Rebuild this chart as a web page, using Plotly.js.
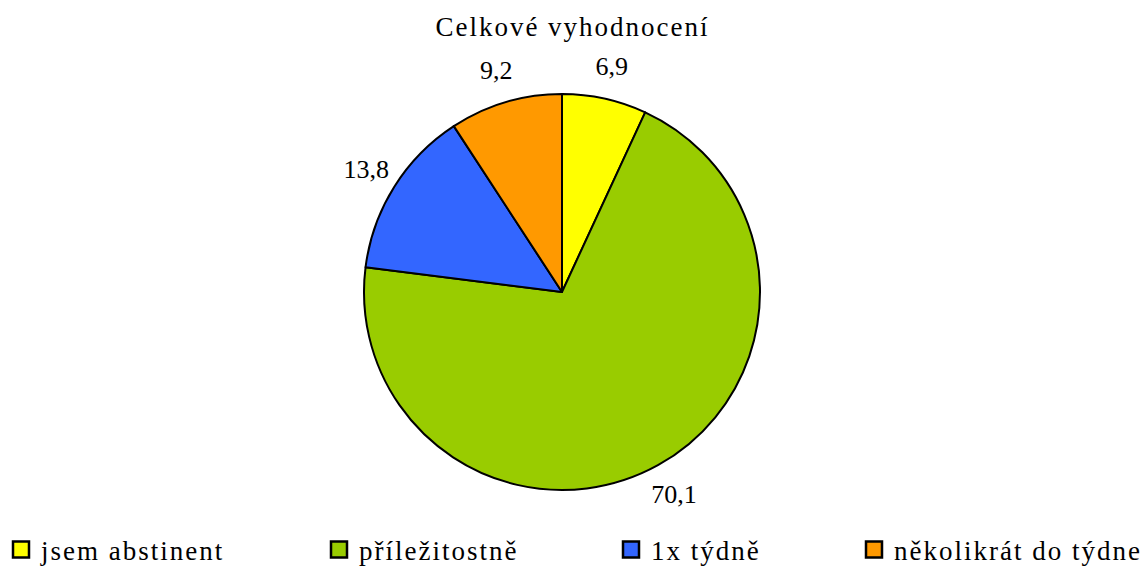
<!DOCTYPE html>
<html>
<head>
<meta charset="utf-8">
<script src="https://cdn.plot.ly/plotly-3.0.1.min.js"></script>
<style>
html, body { margin: 0; padding: 0; background: #fff; }
#chart { width: 1143px; height: 569px; }
.infolayer text, text.legendtext, text.gtitle { letter-spacing: 2px; }
.scrollbox { clip-path: none !important; }
</style>
</head>
<body>
<div id="chart"></div>
<script>
const categories = ['jsem abstinent', 'příležitostně', '1x týdně', 'několikrát do týdne'];
const values = [6.9, 70.1, 13.8, 9.2];
const colors = ['#FFFF00', '#99CC00', '#3366FF', '#FF9900'];
const chartTitle = 'Celkové vyhodnocení';

const FONT = 'Liberation Serif';
const legendX = [1, 319, 611, 854];

const traces = [{
  type: 'pie',
  values: values,
  labels: categories,
  sort: false,
  direction: 'clockwise',
  rotation: 0,
  marker: { colors: colors, line: { color: '#000', width: 2 } },
  textinfo: 'none',
  hoverinfo: 'label+value',
  showlegend: false,
  domain: { x: [0.19169, 0.79169], y: [0.12069, 0.87931] }
}, {
  // transparent ring around the pie that carries the value labels, centred on each slice's mid-angle
  type: 'pie',
  values: values,
  labels: categories,
  sort: false,
  direction: 'clockwise',
  rotation: 0,
  hole: 0.77,
  marker: { colors: ['rgba(0,0,0,0)', 'rgba(0,0,0,0)', 'rgba(0,0,0,0)', 'rgba(0,0,0,0)'], line: { width: 0 } },
  textposition: 'inside',
  insidetextorientation: 'horizontal',
  texttemplate: '%{value:.1f}',
  insidetextfont: { family: FONT, size: 26, color: '#000' },
  textfont: { family: FONT, size: 26, color: '#000' },
  hoverinfo: 'skip',
  showlegend: false,
  domain: { x: [0.19169, 0.79169], y: [0, 1] }
}];

const layout = {
  width: 1143,
  height: 569,
  margin: { l: 0, r: 0, t: 31, b: 16, autoexpand: false },
  paper_bgcolor: '#fff',
  plot_bgcolor: '#fff',
  separators: ', ',
  font: { family: FONT, color: '#000', size: 26 },
  title: {
    text: chartTitle,
    font: { family: FONT, size: 27, color: '#000' },
    x: 572.5 / 1143, xanchor: 'center', xref: 'container',
    y: 1 - 27 / 569, yanchor: 'middle', yref: 'container'
  },
  xaxis: { visible: false },
  yaxis: { visible: false },
  showlegend: true
};

categories.forEach((c, i) => {
  const key = i === 0 ? 'legend' : 'legend' + (i + 1);
  traces.push({
    type: 'scatter',
    mode: 'markers',
    x: [null], y: [null],
    name: c,
    legend: key,
    showlegend: true,
    hoverinfo: 'skip',
    marker: { symbol: 'square', size: 20, color: colors[i], line: { color: '#000', width: 2.5 } }
  });
  layout[key] = {
    x: legendX[i] / 1143, xanchor: 'left', xref: 'container',
    y: 1 - 550 / 569, yanchor: 'middle', yref: 'container',
    orientation: 'h',
    bgcolor: 'rgba(0,0,0,0)',
    font: { family: FONT, size: 27, color: '#000' },
    itemwidth: 30
  };
});

Plotly.newPlot('chart', traces, layout, { displayModeBar: false, staticPlot: true });
</script>
</body>
</html>
